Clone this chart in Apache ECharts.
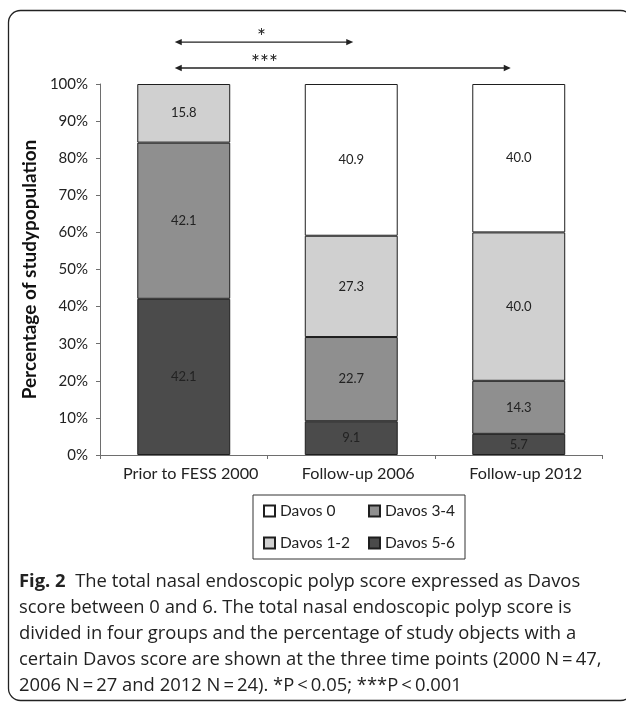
<!DOCTYPE html>
<html>
<head>
<meta charset="utf-8">
<script src="https://cdn.jsdelivr.net/npm/echarts@6/dist/echarts.min.js"></script>
<style>
html,body{margin:0;padding:0;background:#fff;}
#chart{width:626px;height:704px;}
</style>
</head>
<body>
<div id="chart"></div>
<script>
// ---- data ----
var categories = ['Prior to FESS 2000', 'Follow-up 2006', 'Follow-up 2012'];
var davos56 = [42.1, 9.1, 5.7];
var davos34 = [42.1, 22.7, 14.3];
var davos12 = [15.8, 27.3, 40.0];
var davos0 = [null, 40.9, 40.0];
var seriesNames = ['Davos 5-6', 'Davos 3-4', 'Davos 1-2', 'Davos 0'];
var legendOrder = ['Davos 0', 'Davos 3-4', 'Davos 1-2', 'Davos 5-6'];
var yTicks = [0, 10, 20, 30, 40, 50, 60, 70, 80, 90, 100];
var yAxisTitle = 'Percentage of studypopulation';
var sigLabels = ['*', '***'];
var captionLines = [
  '{b|Fig. 2}  The total nasal endoscopic polyp score expressed as Davos',
  'score between 0 and 6. The total nasal endoscopic polyp score is',
  'divided in four groups and the percentage of study objects with a',
  'certain Davos score are shown at the three time points (2000 N\u2009=\u200947,',
  '2006 N\u2009=\u200927 and 2012 N\u2009=\u200924). *P\u2009<\u20090.05; ***P\u2009<\u20090.001'
];

var colors = ['#4b4b4b', '#8f8f8f', '#d0d0d0', '#ffffff'];
var chartFont = 'Lato';
var captionFont = 'Open Sans';

var chart = echarts.init(document.getElementById('chart'), null, {renderer: 'canvas'});

function mkSeries(name, data, color) {
  return {
    name: name,
    type: 'bar',
    stack: 'total',
    data: data,
    barWidth: '55.5%',
    itemStyle: {color: color, borderColor: '#1e1e1e', borderWidth: 1},
    label: {
      show: true,
      position: 'inside',
      color: '#222',
      fontFamily: chartFont,
      fontSize: 13,
      formatter: function (p) { return p.value == null ? '' : Number(p.value).toFixed(1); }
    },
    emphasis: {disabled: true},
    animation: false
  };
}

var dataArrays = [davos56, davos34, davos12, davos0];
var series = seriesNames.map(function (n, i) { return mkSeries(n, dataArrays[i], colors[i]); });

var option = {
  animation: false,
  backgroundColor: '#ffffff',
  grid: {left: 100, right: 23.5, top: 84, bottom: 249, containLabel: false},
  title: {
    text: captionLines.join('\n'),
    left: 14,
    top: 564,
    textStyle: {
      fontFamily: captionFont,
      fontSize: 18.4,
      fontWeight: 'normal',
      color: '#222',
      lineHeight: 26,
      rich: {
        b: {fontFamily: captionFont, fontSize: 18.4, fontWeight: 'bold', color: '#222', lineHeight: 26}
      }
    }
  },
  legend: {
    data: legendOrder,
    left: 253,
    top: 495,
    width: 200,
    orient: 'horizontal',
    itemWidth: 11,
    itemHeight: 11,
    itemGap: 16,
    icon: 'rect',
    padding: [8, 8, 8, 10],
    borderColor: '#333',
    borderWidth: 1,
    textStyle: {fontFamily: chartFont, fontSize: 15.5, color: '#222', width: 72, lineHeight: 16},
    selectedMode: false
  },
  xAxis: {
    type: 'category',
    data: categories,
    axisLine: {lineStyle: {color: '#6e6e6e', width: 1}},
    axisTick: {show: true, alignWithLabel: false, length: 4, lineStyle: {color: '#6e6e6e'}},
    axisLabel: {interval: 0, hideOverlap: false, fontFamily: chartFont, fontSize: 16.2, color: '#222', margin: 11, padding: [0, 0, 0, 14]}
  },
  yAxis: {
    type: 'value',
    min: yTicks[0],
    max: yTicks[yTicks.length - 1],
    interval: yTicks[1] - yTicks[0],
    name: yAxisTitle,
    nameLocation: 'middle',
    nameRotate: 90,
    nameGap: 48,
    nameTextStyle: {fontFamily: chartFont, fontSize: 19, fontWeight: 'bold', color: '#111'},
    axisLine: {show: true, lineStyle: {color: '#6e6e6e', width: 1}},
    axisTick: {show: true, length: 4, lineStyle: {color: '#6e6e6e'}},
    splitLine: {show: false},
    axisLabel: {fontFamily: chartFont, fontSize: 15, color: '#222', margin: 12, formatter: '{value}%'}
  },
  series: series
};

chart.setOption(option);

// annotations: significance arrows, computed from the axes
function px(catIndex, yVal) {
  return chart.convertToPixel({xAxisIndex: 0, yAxisIndex: 0}, [catIndex, yVal]);
}
function arrow(x1, x2, y) {
  var h = 3.2, l = 7;
  return [
    {type: 'line', shape: {x1: x1 + l - 1, y1: y, x2: x2 - l + 1, y2: y}, style: {stroke: '#222', lineWidth: 1.4}, silent: true},
    {type: 'polygon', shape: {points: [[x1, y], [x1 + l, y - h], [x1 + l, y + h]]}, style: {fill: '#222'}, silent: true},
    {type: 'polygon', shape: {points: [[x2, y], [x2 - l, y - h], [x2 - l, y + h]]}, style: {fill: '#222'}, silent: true}
  ];
}
var a1L = px(0, 111.3), a1R = px(1, 111.3);
var a2L = px(0, 104.3), a2R = px(2, 104.3);
var elems = [];
elems = elems.concat(arrow(a1L[0] - 9, a1R[0] + 2, a1L[1]));
elems = elems.concat(arrow(a2L[0] - 9, a2R[0] - 8, a2L[1]));
var midX = (a1L[0] + a1R[0]) / 2;
elems.push({type: 'text', style: {text: sigLabels[0], x: midX - 6, y: a1L[1] - 5, align: 'center', verticalAlign: 'middle', fontFamily: chartFont, fontSize: 21, fill: '#222'}, silent: true});
elems.push({type: 'text', style: {text: sigLabels[1], x: midX - 3, y: a2L[1] - 5, align: 'center', verticalAlign: 'middle', fontFamily: chartFont, fontSize: 21, fill: '#222'}, silent: true});
elems.push({type: 'rect', shape: {x: 8.5, y: 10.5, width: 624, height: 690, r: 12}, style: {fill: 'none', stroke: '#222', lineWidth: 1.3}, silent: true, z: 100});
chart.setOption({graphic: {elements: elems}});
</script>
</body>
</html>
